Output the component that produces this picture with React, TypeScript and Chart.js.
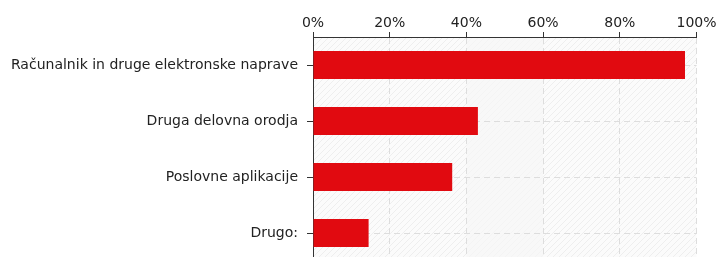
import React, { useEffect, useRef } from "react";
import { Chart, registerables } from "chart.js";

Chart.register(...registerables);

const categories = [
  "Računalnik in druge elektronske naprave",
  "Druga delovna orodja",
  "Poslovne aplikacije",
  "Drugo:",
];
const values = [97, 43, 36.3, 14.5];
const xTicks = [0, 20, 40, 60, 80, 100];

const FONT = "'DejaVu Sans', Verdana, sans-serif";

function makePattern(): CanvasPattern | string {
  const c = document.createElement("canvas");
  c.width = 6;
  c.height = 6;
  const g = c.getContext("2d");
  if (!g) return "#f8f8f8";
  g.fillStyle = "#fbfbfb";
  g.fillRect(0, 0, 6, 6);
  g.strokeStyle = "#eeeeee";
  g.lineWidth = 1;
  g.beginPath();
  g.moveTo(0, 6);
  g.lineTo(6, 0);
  g.moveTo(-3, 3);
  g.lineTo(3, -3);
  g.moveTo(3, 9);
  g.lineTo(9, 3);
  g.stroke();
  const p = g.createPattern(c, "repeat");
  return p || "#f8f8f8";
}

const bgPlugin = {
  id: "bgHatch",
  beforeDraw(chart: any) {
    const { ctx, chartArea } = chart;
    if (!chartArea) return;
    ctx.save();
    ctx.fillStyle = makePattern();
    ctx.fillRect(chartArea.left, chartArea.top, chartArea.right - chartArea.left, chartArea.bottom - chartArea.top);
    const xs = chart.scales.x;
    ctx.fillStyle = "rgba(246,246,246,0.7)";
    const a = xs.getPixelForValue(40);
    const b = xs.getPixelForValue(60);
    ctx.fillRect(a, chartArea.top, b - a, chartArea.bottom - chartArea.top);
    ctx.restore();
  },
};

export default function App() {
  const ref = useRef<HTMLCanvasElement | null>(null);
  useEffect(() => {
    if (!ref.current) return;
    const chart = new Chart(ref.current, {
      type: "bar",
      data: {
        labels: categories,
        datasets: [
          {
            data: values,
            backgroundColor: "#e10a10",
            borderWidth: 0,
            barPercentage: 0.5,
            categoryPercentage: 1,
          },
        ],
      },
      options: {
        indexAxis: "y",
        animation: false,
        responsive: false,
        maintainAspectRatio: false,
        layout: { padding: { left: 0, right: 0, top: 0, bottom: 0 } },
        plugins: { legend: { display: false }, tooltip: { enabled: false } },
        scales: {
          x: {
            position: "top",
            min: 0,
            max: 100,
            afterBuildTicks: (s: any) => {
              s.ticks = xTicks.map((v) => ({ value: v }));
            },
            afterFit: (s: any) => {
              s.height = 37;
              s.paddingRight = 19.5;
            },
            ticks: {
              callback: (v: any) => v + "%",
              color: "#222",
              font: { family: FONT, size: 14 },
              padding: 0,
              maxRotation: 0,
            },
            grid: {
              color: "#dddddd",
              tickColor: "#333",
              tickLength: 5,
              tickBorderDash: [],
              drawTicks: true,
            } as any,
            border: { display: true, color: "#333", width: 1, dash: [6, 4] },
          },
          y: {
            afterFit: (s: any) => {
              s.width = 313;
              s.paddingBottom = 0;
              s.paddingTop = 0;
            },
            ticks: {
              color: "#222",
              font: { family: FONT, size: 14 },
              padding: 9,
              autoSkip: false,
            },
            grid: {
              offset: false,
              color: "#dddddd",
              tickColor: "#333",
              tickLength: 6,
              tickBorderDash: [],
            } as any,
            border: { display: true, color: "#333", width: 1, dash: [6, 4] },
          },
        },
      },
      plugins: [bgPlugin],
    } as any);
    return () => chart.destroy();
  }, []);
  return (
    <div
      style={{
        position: "absolute",
        left: 0,
        top: 0,
        width: 716,
        height: 257,
        overflow: "hidden",
        background: "#fff",
      }}
    >
      <canvas ref={ref} width={716} height={261} style={{ display: "block" }} />
    </div>
  );
}
